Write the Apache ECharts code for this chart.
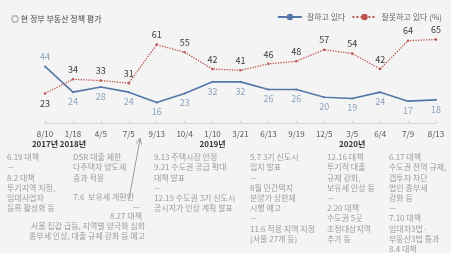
<!DOCTYPE html>
<html><head><meta charset="utf-8">
<script src="https://cdn.jsdelivr.net/npm/echarts@6/dist/echarts.min.js"></script>
<style>html,body{margin:0;padding:0;background:#f4f4f4}#c{width:451px;height:253px}</style>
</head><body><div id="c"></div>
<script>
const categories = ['8/10','1/18','4/5','7/5','9/13','10/4','1/10','3/21','6/13','9/19','12/5','3/5','6/4','7/9','8/13'];
const yearLabels = ['2017년','2018년','','','','','2019년','','','','','2020년','','',''];
const goodValues = [44,24,28,24,16,23,32,32,26,26,20,19,24,17,18];
const badValues = [23,34,33,31,61,55,42,41,46,48,57,54,42,64,65];
const goodLabelPos = ['top','bottom','bottom','bottom','bottom','bottom','bottom','bottom','bottom','bottom','bottom','bottom','bottom','bottom','bottom'];
const badLabelPos = ['bottom','top','top','top','top','top','top','top','top','top','top','top','top','top','top'];
const seriesNames = ['잘하고 있다','잘못하고 있다 (%)'];

const FONT = '"Noto Sans CJK KR", "Noto Sans", sans-serif';
const chart = echarts.init(document.getElementById('c'));
const annoStyle = {fill:'#9c9c9c', fontSize:8, fontFamily:FONT, lineHeight:10.2};
function txt(x,y,t,align){return {type:'text', x:x, y:y, style:Object.assign({text:t, textAlign:align||'left', textVerticalAlign:'top'}, annoStyle)};}

chart.setOption({
  backgroundColor:'#f4f4f4',
  animation:false,
  textStyle:{fontFamily:FONT},
  title:{text:'◎ 현 정부 부동산 정책 평가', left:6, top:10, textStyle:{fontSize:8, fontWeight:'normal', color:'#444', fontFamily:FONT}},
  legend:{right:4, top:8, itemWidth:24, itemHeight:8, itemGap:6,
    textStyle:{fontSize:8, color:'#666', fontFamily:FONT},
    data:seriesNames},
  grid:{left:45, right:15, top:33, bottom:130},
  xAxis:{type:'category', data:categories, boundaryGap:false,
    axisLine:{lineStyle:{color:'#cfcfcf', type:'dotted', width:1}},
    axisTick:{show:true, inside:true, length:2, lineStyle:{color:'#cfcfcf'}},
    axisLabel:{interval:0, margin:6, fontSize:8, color:'#555', fontFamily:FONT, lineHeight:10,
      formatter:function(v,i){return yearLabels[i]? v+'\n{y|'+yearLabels[i]+'}' : v;},
      rich:{y:{fontSize:8, color:'#333', fontWeight:'bold', fontFamily:FONT, lineHeight:10}}}},
  yAxis:{type:'value', min:0, max:70, show:false, splitLine:{show:false}},
  series:[
    {name:seriesNames[0], type:'line', data:goodValues.map((v,i)=>({value:v, label:{position:goodLabelPos[i]}})),
      symbol:'circle', symbolSize:2, showSymbol:true,
      lineStyle:{color:'#5577a8', width:1.6}, itemStyle:{color:'#5577a8'},
      label:{show:true, fontSize:9, color:'#8ea3be', distance:4, fontFamily:FONT}},
    {name:seriesNames[1], type:'line', data:badValues.map((v,i)=>({value:v, label:{position:badLabelPos[i]}})),
      symbol:'circle', symbolSize:2.5,
      lineStyle:{color:'#bb5551', width:1.3, type:'dotted'}, itemStyle:{color:'#bb5551'},
      label:{show:true, fontSize:9, color:'#3a3a3a', distance:4, fontFamily:FONT}}
  ],
  graphic:[
    txt(7,152,'6.19 대책\n—\n8.2 대책\n투기지역 지정,\n임대사업자\n등록 활성화 등'),
    txt(73,152,'DSR 대출 제한\n다주택자 양도세\n중과 적용'),
    txt(134,192,'7.6  보유세 개편안','right'),
    txt(140,202,'—','right'),
    txt(142,211,'8.27 대책','right'),
    txt(145,221,'서울 집값 급등, 지역별 양극화 심화\n종부세 인상, 대출 규제 강화 등 예고','right'),
    txt(154,152,'9.13 주택시장 안정\n9.21 수도권 공급 확대\n대책 발표\n—\n12.19 수도권 3기 신도시\n공시지가 인상 계획 발표'),
    txt(250,152,'5.7 3기 신도시\n입지 발표\n—\n8월 민간택지\n분양가 상한제\n시행 예고\n—\n11.6 적용 지역 지정\n(서울 27개 동)'),
    txt(327,152,'12.16 대책\n투기적 대출\n규제 강화,\n보유세 인상 등\n—\n2.20 대책\n수도권 5곳\n조정대상지역\n추가 등'),
    txt(389,152,'6.17 대책\n수도권 전역 규제,\n갭투자 차단\n법인 종부세\n강화 등\n—\n7.10 대책\n임대차3법·\n부동산3법 통과\n8.4 대책'),
    {type:'line', shape:{x1:129, y1:199, x2:140, y2:139}, style:{stroke:'#9a9a9a', lineWidth:1}},
    {type:'polyline', shape:{points:[[136.5,143.5],[140,138],[141.5,144.5]]}, style:{stroke:'#9a9a9a', lineWidth:1, fill:null}}
  ]
});
</script></body></html>
